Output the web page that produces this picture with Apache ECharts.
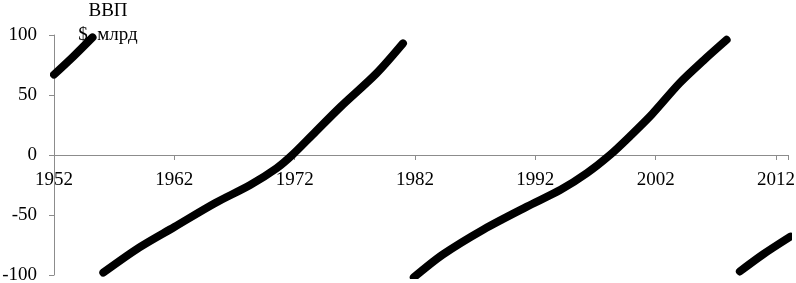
<!DOCTYPE html>
<html><head><meta charset="utf-8">
<script src="https://cdn.jsdelivr.net/npm/echarts@6/dist/echarts.min.js"></script>
<style>html,body{margin:0;padding:0;background:#fff}#c{width:796px;height:283px}</style>
</head><body><div id="c"></div>
<script>
const years = [1952.0, 1953.6, 1955.2, null,
  1956.1, 1959.1, 1962.0, 1965.4, 1968.3, 1970.5, 1971.8, 1973.5, 1975.8, 1978.8, 1981.0, null,
  1981.9, 1984.3, 1987.7, 1991.3, 1994.1, 1996.3, 1998.2, 1999.9, 2001.7, 2004.0, 2006.0, 2007.9, null,
  2009.0, 2010.9, 2013.2];
const gdp = [67, 82, 98, null,
  -98, -77, -60, -40, -25, -11, 0, 17, 40, 68, 93, null,
  -102, -83, -62, -43, -29, -15, 0, 16, 34, 60, 79, 96, null,
  -97, -83, -68];
const xTicks = [1952, 1962, 1972, 1982, 1992, 2002, 2012];
const yTicks = [-100, -50, 0, 50, 100];
const titleLines = ['ВВП', '$\u00a0\u00a0млрд'];

const data = years.map((y, i) => (y === null ? [null, null] : [y, gdp[i]]));
const font = 'Liberation Serif';
const axisColor = '#8c8c8c';
const gridBox = { left: 54, right: 8, top: 35, containLabel: false, outerBoundsMode: 'none' };
const chart = echarts.init(document.getElementById('c'));
chart.setOption({
  animation: false,
  title: {
    text: titleLines.join('\n'), left: 103, top: -6, textAlign: 'center',
    textStyle: { fontFamily: font, fontSize: 19, fontWeight: 'normal', color: '#000', lineHeight: 24 }
  },
  grid: [
    Object.assign({ bottom: 8 }, gridBox),
    Object.assign({ height: 120 }, gridBox)
  ],
  xAxis: [{
    gridIndex: 0, type: 'value', min: 1952, max: 2013, interval: 10,
    axisLine: { show: false }, axisTick: { show: false }, axisLabel: { show: false },
    splitLine: { show: false }
  }, {
    gridIndex: 1, type: 'value', min: 1952, max: 2013, interval: 10, position: 'bottom',
    axisLine: { onZero: false, lineStyle: { color: axisColor, width: 1 } },
    axisTick: { show: true, length: 5, lineStyle: { color: axisColor } },
    splitLine: { show: false },
    axisLabel: { margin: 16, fontFamily: font, fontSize: 19, color: '#000',
      formatter: v => (xTicks.includes(v) ? String(v) : '') }
  }],
  yAxis: [{
    gridIndex: 0, type: 'value', min: -100, max: 100, interval: 50,
    axisLine: { show: true, onZero: false, lineStyle: { color: axisColor, width: 1 } },
    axisTick: { show: true, length: 5, lineStyle: { color: axisColor } },
    splitLine: { show: false },
    axisLabel: { margin: 17, fontFamily: font, fontSize: 19, color: '#000',
      formatter: v => (yTicks.includes(v) ? String(v) : '') }
  }, {
    gridIndex: 1, type: 'value', min: 0, max: 100, show: false
  }],
  series: [{
    type: 'line', xAxisIndex: 0, yAxisIndex: 0, data: data, smooth: 0.3, showSymbol: false,
    connectNulls: false, clip: true, z: 3,
    lineStyle: { color: '#000', width: 8, cap: 'round', join: 'round' }
  }]
});
</script></body></html>
